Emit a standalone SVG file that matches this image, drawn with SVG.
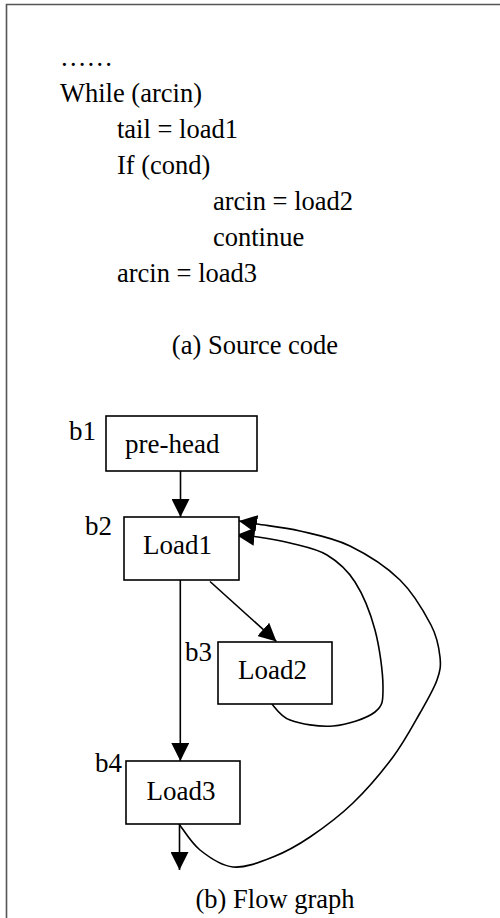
<svg xmlns="http://www.w3.org/2000/svg" width="500" height="918" viewBox="0 0 500 918">
<style>
text { font-family: "Liberation Serif", "Times New Roman", serif; fill: #000; }
.code { font-size: 26.5px; }
.lbl { font-size: 27px; }
.cap { font-size: 26.5px; text-anchor: middle; }
.box { fill: #fff; stroke: #000; stroke-width: 1.6; }
.edge { fill: none; stroke: #000; stroke-width: 1.6; marker-end: url(#ah); }
</style>
<defs>
<marker id="ah" markerUnits="userSpaceOnUse" markerWidth="18" markerHeight="18" refX="18" refY="9" orient="auto">
<path d="M0,0 L18,9 L0,18 z" fill="#000"/>
</marker>
</defs>
<rect width="500" height="918" fill="#fff"/>
<path d="M6.5,918 V4.5 H500" fill="none" stroke="#555" stroke-width="1.6"/>

<g id="source-code">
<text class="code" x="60" y="66">……</text>
<text class="code" x="60" y="101.5">While (arcin)</text>
<text class="code" x="117" y="137.5">tail = load1</text>
<text class="code" x="117" y="173.5">If (cond)</text>
<text class="code" x="213" y="209.5">arcin = load2</text>
<text class="code" x="213" y="245.5">continue</text>
<text class="code" x="117" y="281.5">arcin = load3</text>
<text class="cap" x="255" y="354">(a) Source code</text>
</g>

<g id="connectors">
<path class="edge" d="M180.5,471 V517"/>
<path class="edge" d="M210,581.5 L276.5,641.5"/>
<path class="edge" d="M180.3,580 V761"/>
<path class="edge" d="M179.5,824 V870"/>
<path class="edge" d="M179,824 C182.5,828.3 191,842.8 200,850 C209,857.2 220.8,865.8 233,867 C245.2,868.2 260.2,862 273,857 C285.8,852 296.7,846 310,837 C323.3,828 339.2,816.3 353,803 C366.8,789.7 381.8,772 393,757 C404.2,742 412.7,725.8 420,713 C427.3,700.2 433.7,689.3 437,680 C440.3,670.7 441,666.2 440,657 C439,647.8 437.7,637.8 431,625 C424.3,612.2 413.5,593.2 400,580 C386.5,566.8 366.7,554.2 350,546 C333.3,537.8 315.5,534.7 300,531 C284.5,527.3 267.2,525.7 257,524 C246.8,522.3 242,521.5 239,521"/>
<path class="edge" d="M271,703 C274.2,705.8 279.7,716.2 290,720 C300.3,723.8 318.8,727.3 333,726 C347.2,724.7 366.7,718.5 375,712 C383.3,705.5 383,700.7 383,687 C383,673.3 379.7,647.5 375,630 C370.3,612.5 363,594.5 355,582 C347,569.5 337.8,561.5 327,555 C316.2,548.5 301.5,546 290,543 C278.5,540 267,538.3 258,537 C249,535.7 239.7,535.3 236.5,535"/>
</g>

<g id="b1">
<rect class="box" x="106" y="416" width="151" height="55"/>
<text class="lbl" x="125" y="453">pre-head</text>
<text class="lbl" x="69" y="440">b1</text>
</g>

<g id="b2">
<rect class="box" x="124" y="517" width="115" height="63"/>
<text class="lbl" x="143" y="554">Load1</text>
<text class="lbl" x="85" y="535">b2</text>
</g>

<g id="b3">
<rect class="box" x="218" y="642" width="114" height="62"/>
<text class="lbl" x="238" y="679">Load2</text>
<text class="lbl" x="185" y="661">b3</text>
</g>

<g id="b4">
<rect class="box" x="126" y="761" width="114" height="63"/>
<text class="lbl" x="146.5" y="800">Load3</text>
<text class="lbl" x="95" y="771.5">b4</text>
</g>

<text class="cap" x="275" y="908">(b) Flow graph</text>
</svg>
